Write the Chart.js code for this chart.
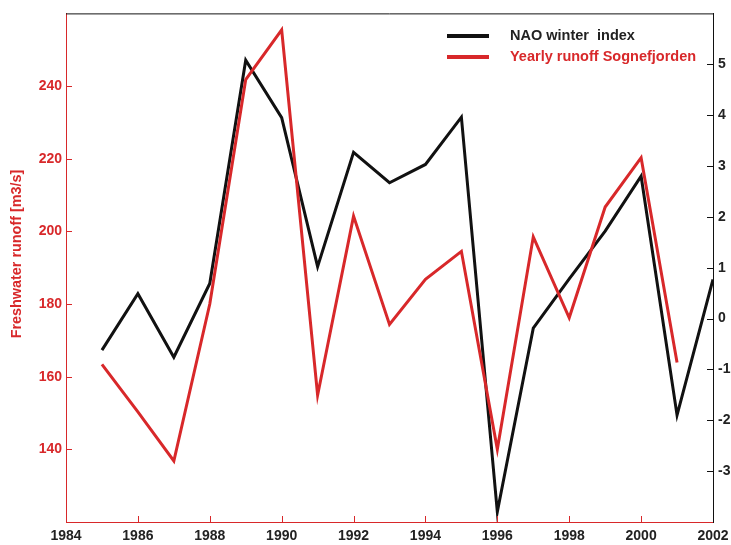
<!DOCTYPE html>
<html><head><meta charset="utf-8">
<script src="https://cdn.jsdelivr.net/npm/chart.js@4/dist/chart.umd.min.js"></script>
<style>html,body{margin:0;padding:0;background:#fff;overflow:hidden}#wrap{width:731px;height:545px;position:relative}</style>
</head><body><div id="wrap"><canvas id="c"></canvas></div>
<script>
const naoYears = [1985,1986,1987,1988,1989,1990,1991,1992,1993,1994,1995,1996,1997,1998,1999,2000,2001,2002];
const naoIndex = [-0.62,0.49,-0.76,0.69,5.08,3.95,1.02,3.27,2.67,3.03,3.96,-3.80,-0.19,0.78,1.72,2.80,-1.90,0.77];
const runoffYears = [1985,1986,1987,1988,1989,1990,1991,1992,1993,1994,1995,1996,1997,1998,1999,2000,2001];
const runoff = [163.4,150.3,136.8,180.0,241.8,255.5,154.9,204.2,174.4,186.8,194.5,140.0,198.5,176.2,206.7,220.3,163.9];
const seriesNames = ['NAO winter  index', 'Yearly runoff Sognefjorden'];
const yTitle = 'Freshwater runoff [m3/s]';

const RED = '#d8282a';
const BLACK = '#111111';
const FONT = '"Liberation Sans", Arial, sans-serif';

const inwardTicks = {
  id: 'inwardTicks',
  afterDraw(chart) {
    const ctx = chart.ctx, a = chart.chartArea;
    ctx.save();
    ctx.lineWidth = 1;
    const L = 6;
    const sx = chart.scales.x;
    ctx.strokeStyle = RED;
    sx.ticks.forEach(t => {
      if (t.value <= sx.min || t.value >= sx.max) return;
      const px = Math.round(sx.getPixelForValue(t.value)) + 0.5;
      ctx.beginPath(); ctx.moveTo(px, a.bottom); ctx.lineTo(px, a.bottom - L); ctx.stroke();
    });
    const sy = chart.scales.y;
    sy.ticks.forEach(t => {
      if (t.value <= sy.min || t.value >= sy.max) return;
      const py = Math.round(sy.getPixelForValue(t.value)) + 0.5;
      ctx.beginPath(); ctx.moveTo(a.left, py); ctx.lineTo(a.left + L, py); ctx.stroke();
    });
    const sy1 = chart.scales.y1;
    ctx.strokeStyle = BLACK;
    sy1.ticks.forEach(t => {
      if (t.value <= sy1.min || t.value >= sy1.max) return;
      const py = Math.round(sy1.getPixelForValue(t.value)) + 0.5;
      ctx.beginPath(); ctx.moveTo(a.right, py); ctx.lineTo(a.right - L, py); ctx.stroke();
    });
    ctx.strokeStyle = BLACK;
    ctx.beginPath(); ctx.moveTo(a.left, a.top + 0.5); ctx.lineTo(a.right, a.top + 0.5); ctx.stroke();

    const ds = chart.data.datasets;
    ctx.font = 'bold 14.5px ' + FONT;
    ctx.textBaseline = 'middle';
    ctx.textAlign = 'left';
    [0, 1].forEach((i, k) => {
      const y = 36 + k * 21;
      ctx.strokeStyle = ds[i].borderColor;
      ctx.lineWidth = 4;
      ctx.beginPath(); ctx.moveTo(447, y); ctx.lineTo(489, y); ctx.stroke();
      ctx.fillStyle = i === 0 ? '#222' : RED;
      ctx.fillText(ds[i].label, 510, y);
    });

    ctx.save();
    ctx.translate(17, 254);
    ctx.rotate(-Math.PI / 2);
    ctx.textAlign = 'center';
    ctx.textBaseline = 'middle';
    ctx.fillStyle = RED;
    ctx.font = 'bold 14.4px ' + FONT;
    ctx.fillText(yTitle, 0, 0);
    ctx.restore();
    ctx.restore();
  }
};

new Chart(document.getElementById('c'), {
  type: 'line',
  data: {
    datasets: [
      {
        label: seriesNames[0],
        data: naoYears.map((x, i) => ({x, y: naoIndex[i]})),
        yAxisID: 'y1',
        borderColor: BLACK,
        borderWidth: 3,
        pointRadius: 0,
        tension: 0,
        fill: false,
        order: 1
      },
      {
        label: seriesNames[1],
        data: runoffYears.map((x, i) => ({x, y: runoff[i]})),
        yAxisID: 'y',
        borderColor: RED,
        borderWidth: 3,
        pointRadius: 0,
        tension: 0,
        fill: false,
        order: 0
      }
    ]
  },
  options: {
    responsive: true,
    maintainAspectRatio: false,
    animation: false,
    devicePixelRatio: 1,
    layout: { autoPadding: false, padding: { top: 13, left: 0, right: 0, bottom: 0 } },
    plugins: { legend: { display: false }, tooltip: { enabled: false } },
    scales: {
      x: {
        type: 'linear',
        min: 1984, max: 2002,
        grid: { display: false, drawTicks: false, tickLength: 0 },
        border: { display: true, color: RED, width: 1 },
        ticks: { stepSize: 2, color: '#222', padding: 6, maxRotation: 0, autoSkip: false,
          font: { family: FONT, size: 14, weight: 'bold' },
          callback: v => String(v) },
        afterFit: s => { s.height = 23; s.paddingLeft = 0; s.paddingRight = 0; }
      },
      y: {
        position: 'left',
        min: 120, max: 260,
        grid: { display: false, drawTicks: false, tickLength: 0 },
        border: { display: true, color: RED, width: 1 },
        ticks: { stepSize: 20, color: RED, padding: 4,
          font: { family: FONT, size: 14, weight: 'bold' },
          callback: v => (v === 120 || v === 260) ? '' : String(v) },
        afterFit: s => { s.width = 66; }
      },
      y1: {
        position: 'right',
        min: -4, max: 6,
        grid: { display: false, drawTicks: false, tickLength: 0 },
        border: { display: true, color: BLACK, width: 1 },
        ticks: { stepSize: 1, color: '#222', padding: 5,
          font: { family: FONT, size: 14, weight: 'bold' },
          callback: v => (v === -4 || v === 6) ? '' : String(v) },
        afterFit: s => { s.width = 18; }
      }
    }
  },
  plugins: [inwardTicks]
});
</script>
</body></html>
